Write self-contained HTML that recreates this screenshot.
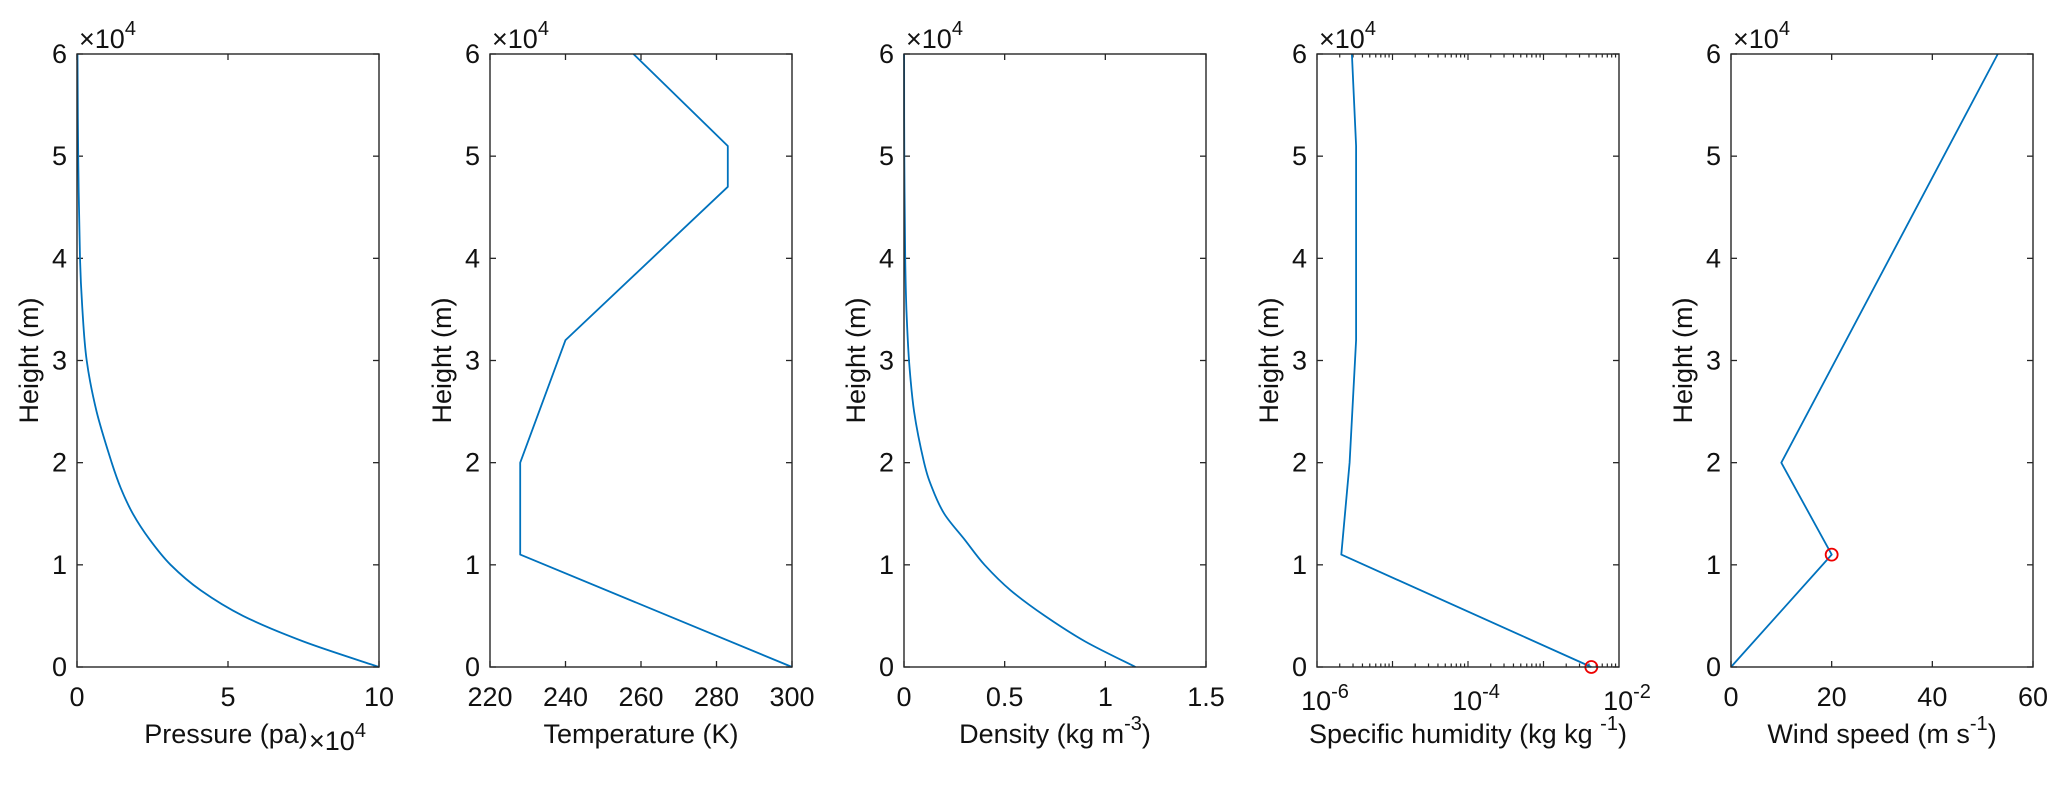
<!DOCTYPE html>
<html><head><meta charset="utf-8"><style>
body{margin:0;background:#fff;}
svg{display:block;font-family:"Liberation Sans",sans-serif;}
</style></head><body>
<svg id="fig" width="2067" height="785" xmlns="http://www.w3.org/2000/svg"></svg>
<script>
// ---- data ----
const heightsP = [0,2500,5000,7500,10000,12500,15000,17500,20000,25000,30000,35000,40000,50000,60000];
const pressure = [100000,75000,55000,41000,31000,24000,18500,14500,11500,6500,3200,1800,1000,400,150];
const heightsT = [0,11000,20000,32000,47000,51000,60000];
const temperature = [300,228,228,240,283,283,258];
const heightsD = [0,2500,5000,7500,10000,12500,15000,17500,20000,25000,30000,35000,40000,50000,60000];
const density = [1.15,0.9,0.7,0.53,0.4,0.3,0.2,0.14,0.1,0.05,0.025,0.012,0.006,0.0015,0.0004];
const heightsQ = [0,11000,20000,32000,51000,60000];
const humidity = [0.0043,2.1e-6,2.7e-6,3.3e-6,3.3e-6,2.9e-6];
const heightsW = [0,11000,20000,60000];
const wind = [0,20,10,53];
const markerQ = [0.0043,0];
const markerW = [20,11000];
const yTicks = [0,1,2,3,4,5,6];
const xTicksP = [0,5,10];
const xTicksT = [220,240,260,280,300];
const xTicksD = [0,0.5,1,1.5];
const xTicksW = [0,20,40,60];

const NS="http://www.w3.org/2000/svg";
const svg=document.getElementById('fig');
const TOP=54,BOT=667,W=302;
const lefts=[77,490,904,1317,1731];
const AX='#262626',LC='#0072BD';
const FS=27,SUP=20;
function el(tag,attrs,parent,text){const e=document.createElementNS(NS,tag);for(const k in attrs)e.setAttribute(k,attrs[k]);if(text!==undefined)e.textContent=text;(parent||svg).appendChild(e);return e;}

function smoothPath(P){
  let d='M'+P[0][0].toFixed(1)+','+P[0][1].toFixed(1);
  for(let i=0;i<P.length-1;i++){
    const p0=P[Math.max(0,i-1)],p1=P[i],p2=P[i+1],p3=P[Math.min(P.length-1,i+2)];
    const c1=[p1[0]+(p2[0]-p0[0])/6,p1[1]+(p2[1]-p0[1])/6];
    const c2=[p2[0]-(p3[0]-p1[0])/6,p2[1]-(p3[1]-p1[1])/6];
    d+=' C'+c1.map(v=>v.toFixed(1)).join(',')+' '+c2.map(v=>v.toFixed(1)).join(',')+' '+p2[0].toFixed(1)+','+p2[1].toFixed(1);
  }
  return d;
}

function panel(i,xmin,xmax,log,xt,xtLabels,xlabel,xs,ys,marker,labelCx,smooth,tickScale){
  const L=lefts[i],R=L+W;
  const g=el('g',{},svg);
  
  
  const fx=v=>log?L+(Math.log10(v)-Math.log10(xmin))/(Math.log10(xmax)-Math.log10(xmin))*W:L+(v-xmin)/(xmax-xmin)*W;
  const fy=v=>BOT-(v/60000)*(BOT-TOP);
  yTicks.forEach(t=>{const y=fy(t*10000);
    el('line',{x1:L,y1:y,x2:L+6,y2:y,stroke:AX,'stroke-width':1.3},g);
    el('line',{x1:R,y1:y,x2:R-6,y2:y,stroke:AX,'stroke-width':1.3},g);
    const tl=el('text',{x:L-10,y:y+9,'font-size':FS,'text-anchor':'end',fill:'#111'},g,String(t));
    
    
  });
  if(log){
    for(let d=-6;d<-2;d++){for(let m=1;m<10;m++){const x=fx(m*Math.pow(10,d));const len=m===1?6:3.5;
      el('line',{x1:x,y1:BOT,x2:x,y2:BOT-len,stroke:AX,'stroke-width':1.2},g);
      el('line',{x1:x,y1:TOP,x2:x,y2:TOP+len,stroke:AX,'stroke-width':1.2},g);}}
    xt.forEach((t,k)=>{const x=fx(t);
      const tx=el('text',{x:x+8,y:710,'font-size':FS,'text-anchor':'middle',fill:'#111'},g);
      
      
      el('tspan',{},tx,'10');el('tspan',{dy:-12,'font-size':SUP},tx,xtLabels[k]);});
  } else {
    const sc=tickScale||1;
    xt.forEach(t=>{const x=fx(t*sc);
      el('line',{x1:x,y1:BOT,x2:x,y2:BOT-6,stroke:AX,'stroke-width':1.3},g);
      el('line',{x1:x,y1:TOP,x2:x,y2:TOP+6,stroke:AX,'stroke-width':1.3},g);
      const tl=el('text',{x:x,y:706,'font-size':FS,'text-anchor':'middle',fill:'#111'},g,String(t));
      
      
    });
  }
  const P=xs.map((v,k)=>[fx(v),fy(ys[k])]);
  let ln;
  if(smooth){ln=el('path',{d:smoothPath(P),fill:'none',stroke:LC,'stroke-width':1.8},g);}
  else{ln=el('polyline',{points:P.map(p=>p[0].toFixed(1)+','+p[1].toFixed(1)).join(' '),fill:'none',stroke:LC,'stroke-width':1.8,'stroke-linejoin':'round'},g);}
  
  
  if(marker){const c=el('circle',{cx:fx(marker[0]),cy:fy(marker[1]),r:6,fill:'none',stroke:'#e00','stroke-width':1.8},g);
    
    }
  const bx=el('rect',{x:L,y:TOP,width:W,height:BOT-TOP,fill:'none',stroke:AX,'stroke-width':1.4},g);
  
  
  const ex=el('text',{x:L+2,y:TOP-6,'font-size':FS,fill:'#111'},g);
  
  
  el('tspan',{},ex,'×10');el('tspan',{dy:-13,'font-size':SUP},ex,'4');
  const yl=el('text',{x:0,y:0,'font-size':FS,'text-anchor':'middle',fill:'#111',transform:`translate(${L-39},${(TOP+BOT)/2}) rotate(-90)`},g,'Height (m)');
  
  
  const xl=el('text',{x:labelCx||L+W/2,y:743,'font-size':FS,'text-anchor':'middle',fill:'#111'},g);
  
  
  xlabel.forEach(p=>{el('tspan',p.sup?{dy:-13,'font-size':SUP}:(p.down?{dy:13}:{}),xl,p.t);});
  return g;
}

const g1=panel(0,0,100000,false,xTicksP,null,[{t:'Pressure (pa)'}],pressure,heightsP,null,226,true,10000);
const ex1=el('text',{x:309,y:750,'font-size':FS,fill:'#111'},g1);


el('tspan',{},ex1,'×10');el('tspan',{dy:-13,'font-size':SUP},ex1,'4');
panel(1,220,300,false,xTicksT,null,[{t:'Temperature (K)'}],temperature,heightsT,null);
panel(2,0,1.5,false,xTicksD,null,[{t:'Density (kg m'},{t:'-3',sup:true},{t:')',down:true}],density,heightsD,null,null,true);
panel(3,1e-6,1e-2,true,[1e-6,1e-4,1e-2],['-6','-4','-2'],[{t:'Specific humidity (kg kg '},{t:'-1',sup:true},{t:')',down:true}],humidity,heightsQ,markerQ);
panel(4,0,60,false,xTicksW,null,[{t:'Wind speed (m s'},{t:'-1',sup:true},{t:')',down:true}],wind,heightsW,markerW);
</script>
</body></html>
